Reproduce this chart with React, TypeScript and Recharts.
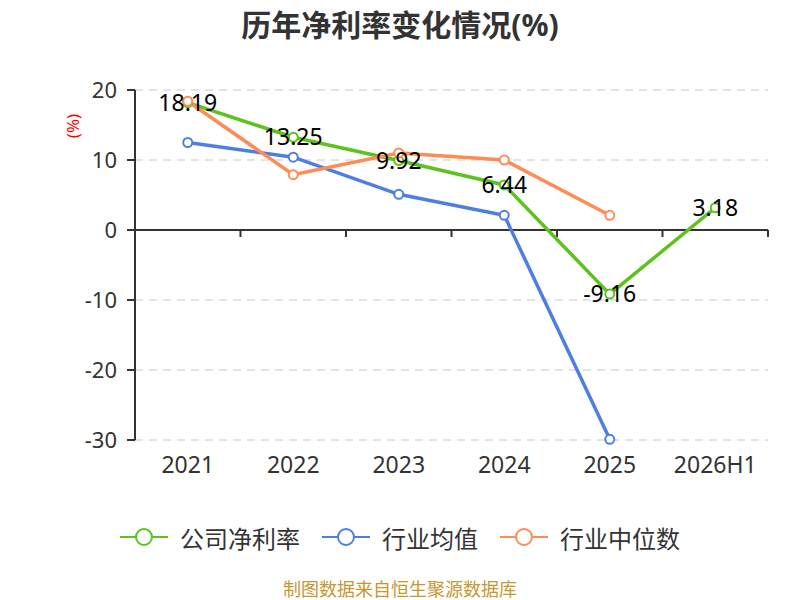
import React from 'react';
import {
  LineChart,
  Line,
  XAxis,
  YAxis,
  CartesianGrid,
  Legend,
  LabelList,
  ReferenceLine,
  Label,
} from 'recharts';

const years = ['2021', '2022', '2023', '2024', '2025', '2026H1'];
const companyRate = [18.19, 13.25, 9.92, 6.44, -9.16, 3.18];
const industryAvg = [12.5, 10.4, 5.1, 2.1, -29.9, null];
const industryMedian = [18.4, 7.9, 11.0, 10.0, 2.1, null];
const yTicks = [-30, -20, -10, 0, 10, 20];

const seriesNames = ['公司净利率', '行业均值', '行业中位数'];
const colors = ['#5bc31c', '#4d7fe2', '#ff8b55'];

const FONT = "'Noto Sans', 'Noto Sans CJK SC', sans-serif";

const data = years.map((year, i) => ({
  year,
  company: companyRate[i],
  avg: industryAvg[i],
  median: industryMedian[i],
}));

const renderLegend = () => (
  <div
    style={{
      display: 'flex',
      justifyContent: 'center',
      alignItems: 'center',
      height: 34,
      fontFamily: FONT,
      fontSize: 24,
      color: '#333',
    }}
  >
    {seriesNames.map((name, i) => (
      <div key={name} style={{ display: 'flex', alignItems: 'center', marginRight: i < 2 ? 22 : 0 }}>
        <svg width={48} height={20} style={{ marginRight: 12 }}>
          <line x1={0} y1={10} x2={48} y2={10} stroke={colors[i]} strokeWidth={2} />
          <circle cx={24} cy={10} r={8} fill="#fff" stroke={colors[i]} strokeWidth={2} />
        </svg>
        <span>{name}</span>
      </div>
    ))}
  </div>
);

// zero line with ticks on the category boundaries
const renderZeroLine = (props: any) => {
  const { x1, x2, y1 } = props;
  const step = (x2 - x1) / years.length;
  return (
    <g>
      <line x1={x1} y1={y1} x2={x2} y2={y1} stroke="#333" strokeWidth={2} />
      {years.concat(['']).map((_, i) => (
        <line key={i} x1={x1 + i * step} y1={y1} x2={x1 + i * step} y2={y1 + 7} stroke="#333" strokeWidth={2} />
      ))}
    </g>
  );
};

const renderValue = (props: any) => {
  const { x, y, value } = props;
  return (
    <text x={x} y={y + 8} textAnchor="middle" fontSize={23} fill="#000" fontFamily={FONT}>
      {value}
    </text>
  );
};

const dotStyle = (c: string) => ({ r: 4.5, fill: '#fff', stroke: c, strokeWidth: 2 });

const App: React.FC = () => (
  <div style={{ position: 'absolute', left: 0, top: 0, width: 800, height: 600, background: '#fff', fontFamily: FONT }}>
    <div
      style={{
        position: 'absolute',
        top: 1,
        width: 800,
        textAlign: 'center',
        fontSize: 30,
        fontWeight: 'bold',
        color: '#333',
      }}
    >
      历年净利率变化情况(%)
    </div>
    <LineChart width={800} height={600} data={data} margin={{ top: 90, right: 32, bottom: 96, left: 75 }}>
      <CartesianGrid vertical={false} stroke="#c8c8c8" strokeDasharray="8 6" />
      <XAxis
        dataKey="year"
        scale="band"
        axisLine={false}
        tickLine={false}
        height={30}
        tickMargin={11}
        tick={{ fontSize: 23, fill: '#333', fontFamily: FONT }}
      />
      <YAxis
        width={60}
        domain={[-30, 20]}
        ticks={yTicks}
        interval={0}
        axisLine={{ stroke: '#333', strokeWidth: 2 }}
        tickLine={{ stroke: '#333', strokeWidth: 2 }}
        tickSize={8}
        tickMargin={10}
        tick={{ fontSize: 22, fill: '#333', fontFamily: FONT }}
      >
        <Label
          content={(p: any) => {
            const vb = p.viewBox || { x: 75, y: 90 };
            const cx = vb.x - 3;
            const cy = vb.y + 36;
            return (
              <text x={cx} y={cy} transform={`rotate(-90 ${cx} ${cy})`} textAnchor="middle" dominantBaseline="central" fontSize={17} fill="#f00" fontFamily={FONT}>
                (%)
              </text>
            );
          }}
        />
      </YAxis>
      <ReferenceLine y={0} shape={renderZeroLine} />
      <Legend content={renderLegend} wrapperStyle={{ top: 520, bottom: 'auto', left: 0, width: 800 }} />
      <Line
        type="linear"
        dataKey="company"
        name={seriesNames[0]}
        stroke={colors[0]}
        strokeWidth={3.5}
        dot={dotStyle(colors[0])}
        activeDot={false}
        isAnimationActive={false}
      >
        <LabelList dataKey="company" content={renderValue} />
      </Line>
      <Line
        type="linear"
        dataKey="avg"
        name={seriesNames[1]}
        stroke={colors[1]}
        strokeWidth={3.5}
        dot={dotStyle(colors[1])}
        activeDot={false}
        isAnimationActive={false}
      />
      <Line
        type="linear"
        dataKey="median"
        name={seriesNames[2]}
        stroke={colors[2]}
        strokeWidth={3.5}
        dot={dotStyle(colors[2])}
        activeDot={false}
        isAnimationActive={false}
      />
    </LineChart>
    <div
      style={{
        position: 'absolute',
        top: 578,
        width: 800,
        textAlign: 'center',
        fontSize: 18,
        lineHeight: '22px',
        color: '#c8962d',
      }}
    >
      制图数据来自恒生聚源数据库
    </div>
  </div>
);

export default App;
